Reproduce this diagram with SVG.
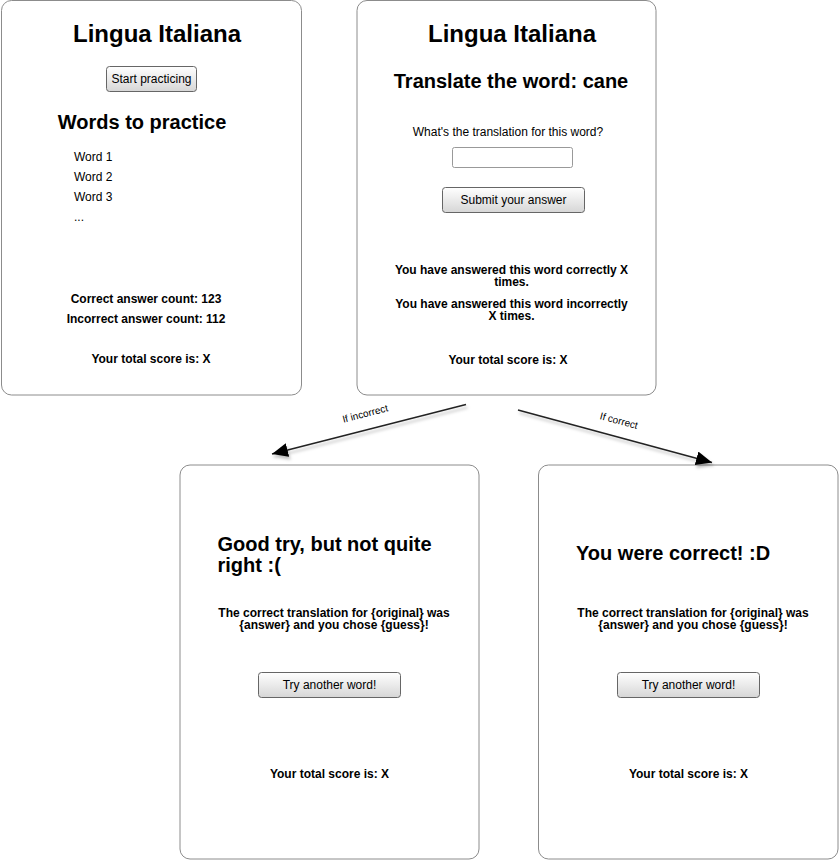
<svg xmlns="http://www.w3.org/2000/svg" width="839" height="860" viewBox="0 0 839 860">
<style>
text{font-family:"Liberation Sans",Arial,sans-serif;fill:#000}
.card{fill:#fff;stroke:#8c8c8c;stroke-width:1}
.h1{font-size:24px;font-weight:bold;text-anchor:middle}
.h2{font-size:20px;font-weight:bold}
.c{text-anchor:middle}
.b12{font-size:12px;font-weight:bold}
.n12{font-size:12px}
.btn{fill:url(#bg);stroke:#666;stroke-width:1}
.btnt{font-size:12px;text-anchor:middle}
.edge{stroke:#222;stroke-width:1.5;fill:none}
.lbl{font-size:10px;text-anchor:middle}
</style>
<defs>
<linearGradient id="bg" x1="0" y1="0" x2="0" y2="1">
<stop offset="0" stop-color="#ffffff"/>
<stop offset="1" stop-color="#d6d6d6"/>
</linearGradient>
<marker id="ah" markerUnits="userSpaceOnUse" markerWidth="18" markerHeight="14" refX="16" refY="7" orient="auto">
<path d="M0,0 L16,7 L0,14 z" fill="#000"/>
</marker>
<filter id="sh" x="-20%" y="-50%" width="140%" height="200%">
<feDropShadow dx="1.5" dy="3" stdDeviation="1.5" flood-color="#000" flood-opacity="0.25"/>
</filter>
</defs>

<g id="card-home">
<rect class="card" x="1.5" y="0.5" width="300" height="394.5" rx="10"/>
<text class="h1" x="157" y="42">Lingua Italiana</text>
<rect class="btn" x="106.5" y="66.5" width="90" height="25" rx="3"/>
<text class="btnt" x="151.5" y="83">Start practicing</text>
<text class="h2 c" x="142" y="129">Words to practice</text>
<text class="n12" x="74" y="161">Word 1</text>
<text class="n12" x="74" y="181">Word 2</text>
<text class="n12" x="74" y="201">Word 3</text>
<text class="n12" x="74" y="221">...</text>
<text class="b12 c" x="146" y="303">Correct answer count: 123</text>
<text class="b12 c" x="146" y="323">Incorrect answer count: 112</text>
<text class="b12 c" x="151" y="363">Your total score is: X</text>
</g>

<g id="card-translate">
<rect class="card" x="357" y="0.5" width="299" height="394.5" rx="10"/>
<text class="h1" x="512" y="42">Lingua Italiana</text>
<text class="h2 c" x="511" y="88">Translate the word: cane</text>
<text class="n12 c" x="508" y="136">What's the translation for this word?</text>
<rect x="452.5" y="147.5" width="120" height="20" rx="2" fill="#fff" stroke="#999"/>
<rect class="btn" x="442.5" y="187.5" width="142" height="25" rx="3"/>
<text class="btnt" x="513.5" y="204">Submit your answer</text>
<text class="b12 c" x="511.5" y="274">You have answered this word correctly X</text>
<text class="b12 c" x="511.5" y="286">times.</text>
<text class="b12 c" x="511.5" y="308">You have answered this word incorrectly</text>
<text class="b12 c" x="511.5" y="320">X times.</text>
<text class="b12 c" x="508" y="364">Your total score is: X</text>
</g>

<g id="card-incorrect">
<rect class="card" x="180" y="465" width="299" height="394" rx="10"/>
<text class="h2" x="217.5" y="551">Good try, but not quite</text>
<text class="h2" x="217.5" y="572">right :(</text>
<text class="b12 c" x="334" y="617">The correct translation for {original} was</text>
<text class="b12 c" x="334" y="629">{answer} and you chose {guess}!</text>
<rect class="btn" x="258.5" y="672.5" width="142" height="25" rx="3"/>
<text class="btnt" x="329.5" y="689">Try another word!</text>
<text class="b12 c" x="329.5" y="778">Your total score is: X</text>
</g>

<g id="card-correct">
<rect class="card" x="538.5" y="465" width="299.5" height="394" rx="10"/>
<text class="h2" x="576" y="560">You were correct! :D</text>
<text class="b12 c" x="693" y="617">The correct translation for {original} was</text>
<text class="b12 c" x="693" y="629">{answer} and you chose {guess}!</text>
<rect class="btn" x="617.5" y="672.5" width="142" height="25" rx="3"/>
<text class="btnt" x="688.5" y="689">Try another word!</text>
<text class="b12 c" x="688.5" y="778">Your total score is: X</text>
</g>

<g id="connectors">
<line class="edge" x1="302" y1="177" x2="357" y2="177" marker-end="url(#ah)" filter="url(#sh)"/>
<line class="edge" x1="466" y1="404.5" x2="272" y2="454" marker-end="url(#ah)" filter="url(#sh)"/>
<line class="edge" x1="518" y1="410" x2="712" y2="462.5" marker-end="url(#ah)" filter="url(#sh)"/>
<text class="lbl" transform="translate(366,417) rotate(-14.5)">If incorrect</text>
<text class="lbl" transform="translate(618,424) rotate(15)">If correct</text>
</g>
</svg>
